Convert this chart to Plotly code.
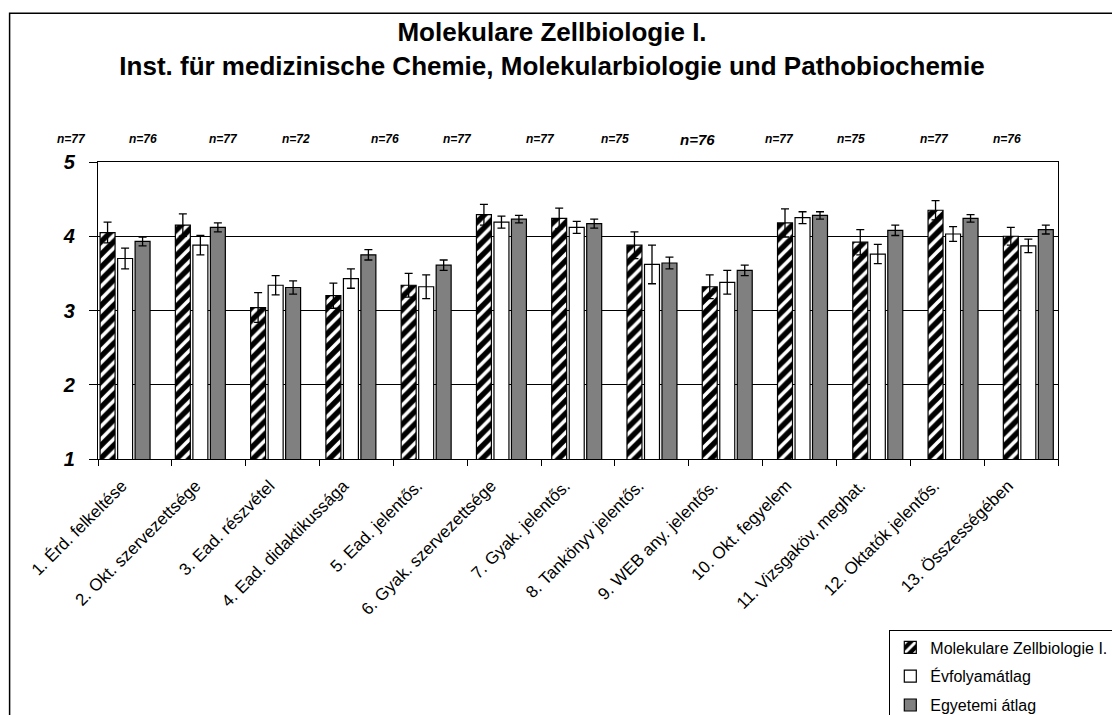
import plotly.graph_objects as go

categories = ["1. Érd. felkeltése", "2. Okt. szervezettsége", "3. Ead. részvétel",
              "4. Ead. didaktikussága", "5. Ead. jelentős.", "6. Gyak. szervezettsége",
              "7. Gyak. jelentős.", "8. Tankönyv jelentős.", "9. WEB any. jelentős.",
              "10. Okt. fegyelem", "11. Vizsgaköv. meghat.", "12. Oktatók jelentős.",
              "13. Összességében"]

series_names = ["Molekulare Zellbiologie I.", "Évfolyamátlag", "Egyetemi átlag"]

kurs_values = [4.05, 4.15, 3.04, 3.20, 3.34, 4.29, 4.24, 3.88, 3.32, 4.18, 3.92, 4.35, 4.00]
kurs_err = [0.14, 0.15, 0.20, 0.17, 0.16, 0.14, 0.14, 0.18, 0.16, 0.19, 0.17, 0.13, 0.12]

evf_values = [3.70, 3.88, 3.34, 3.43, 3.32, 4.19, 4.12, 3.62, 3.38, 4.25, 3.76, 4.03, 3.87]
evf_err = [0.14, 0.13, 0.13, 0.13, 0.16, 0.08, 0.08, 0.26, 0.16, 0.08, 0.13, 0.10, 0.09]

egy_values = [3.93, 4.12, 3.31, 3.75, 3.61, 4.23, 4.17, 3.64, 3.54, 4.28, 4.08, 4.24, 4.09]
egy_err = [0.06, 0.06, 0.09, 0.07, 0.07, 0.05, 0.06, 0.08, 0.07, 0.05, 0.07, 0.05, 0.06]

n_labels = ["n=77", "n=76", "n=77", "n=72", "n=76", "n=77", "n=77",
            "n=75", "n=76", "n=77", "n=75", "n=77", "n=76"]

y_ticks = [1, 2, 3, 4, 5]

# ---- layout geometry (pixels) ----
W, H = 1112, 715
ML, MR, MT, MB = 98, 54, 162, 256
PW = W - ML - MR          # plot width
PH = H - MT - MB          # plot height
BAR_STEP = 75.27          # px between bar groups
GROUP0 = 125              # px of first group centre
TICK_STEP = 73.85         # px between category ticks
LABEL_SHIFT = -13         # px shift of rotated labels

def px_to_u(px):
    return (px - GROUP0) / BAR_STEP

x_idx = list(range(len(categories)))
x_range = [px_to_u(ML), px_to_u(ML + PW)]
boundary_vals = [px_to_u(ML + TICK_STEP * k) for k in range(len(categories) + 1)]
label_vals = [px_to_u(ML + TICK_STEP * (k + 0.5) + LABEL_SHIFT) for k in range(len(categories))]

FONT = "Liberation Sans, Arial, sans-serif"
bw = 0.199
offsets = [-0.331, -0.098, 0.134]

fig = go.Figure()
err_style = dict(type="data", symmetric=True, color="black", thickness=1.3, width=4)

fig.add_trace(go.Bar(
    x=x_idx, y=kurs_values, name=series_names[0], width=bw, offset=offsets[0],
    base=0,
    marker=dict(color="black", line=dict(color="black", width=1.2),
                pattern=dict(shape="/", fgcolor="white", bgcolor="black",
                             size=9, solidity=0.4, fillmode="replace")),
    error_y=dict(array=kurs_err, **err_style), legendgroup="a"))
fig.add_trace(go.Bar(
    x=x_idx, y=evf_values, name=series_names[1], width=bw, offset=offsets[1],
    base=0,
    marker=dict(color="white", line=dict(color="black", width=1.2)),
    error_y=dict(array=evf_err, **err_style), legendgroup="b"))
fig.add_trace(go.Bar(
    x=x_idx, y=egy_values, name=series_names[2], width=bw, offset=offsets[2],
    base=0,
    marker=dict(color="#808080", line=dict(color="black", width=1.2)),
    error_y=dict(array=egy_err, **err_style), legendgroup="c"))

# n labels above plot
n_label_px = [71.4, 142.9, 223, 296, 384.6, 457, 540, 614.8, 697.6, 779, 851, 934, 1007]
for i, (lab, px) in enumerate(zip(n_labels, n_label_px)):
    fig.add_annotation(
        x=(px - ML) / PW, xref="paper", y=(H - MB - 139) / PH, yref="paper",
        text=f"<b><i>{lab}</i></b>", showarrow=False, xanchor="center", yanchor="middle",
        font=dict(family=FONT, size=15 if i == 8 else 12, color="black"))

# outer chart border
fig.add_shape(type="rect", xref="paper", yref="paper",
              x0=(9.6 - ML) / PW, x1=(W + 20 - ML) / PW,
              y0=(H - MB - 13.3) / PH, y1=(H - MB - (H + 20)) / PH,
              line=dict(color="black", width=1.5), fillcolor="rgba(0,0,0,0)", layer="below")

fig.update_layout(
    width=W, height=H,
    margin=dict(l=ML, r=MR, t=MT, b=MB, pad=0, autoexpand=False),
    paper_bgcolor="white", plot_bgcolor="white",
    barmode="overlay",
    title=dict(
        text="<b>Molekulare Zellbiologie I.</b><br><b>Inst. für medizinische Chemie, Molekularbiologie und Pathobiochemie</b>",
        x=552 / W, xanchor="center", y=1 - 41 / H, yanchor="middle",
        xref="container", yref="container",
        font=dict(family=FONT, size=26, color="black")),
    font=dict(family=FONT, color="black"),
    showlegend=True,
    legend=dict(x=(889.3 - ML) / PW, y=(H - MB - 629.5) / PH, xanchor="left", yanchor="top",
                bordercolor="black", borderwidth=1, bgcolor="white",
                font=dict(family=FONT, size=16, color="black"),
                tracegroupgap=5, traceorder="grouped"),
    xaxis=dict(
        range=x_range, tickmode="array", tickvals=label_vals, ticktext=categories,
        tickangle=-45, ticks="", showgrid=False, zeroline=False,
        showline=True, linecolor="black", linewidth=1.3, mirror=True,
        ticklabelstandoff=9,
        tickfont=dict(family=FONT, size=17, color="black"),
        minor=dict(tickmode="array", tickvals=boundary_vals, ticks="outside",
                   ticklen=6, tickcolor="black", tickwidth=1, showgrid=False)),
    yaxis=dict(
        range=[1, 5], tickmode="array", tickvals=y_ticks,
        ticktext=[f"<b><i>{v}</i></b>" for v in y_ticks],
        ticks="outside", ticklen=8, tickcolor="black", tickwidth=1,
        showgrid=True, gridcolor="black", gridwidth=1, zeroline=False,
        showline=True, linecolor="black", linewidth=1.3, mirror=True,
        ticklabelstandoff=10,
        tickfont=dict(family=FONT, size=20, color="black")),
)

fig.write_html("out.html", config={"displayModeBar": False},
               post_script="document.body.style.margin='0';")
